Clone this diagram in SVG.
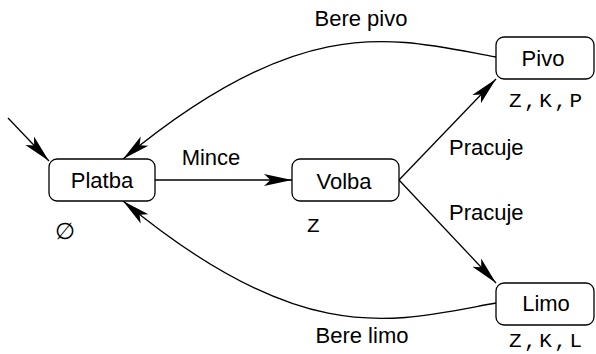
<svg xmlns="http://www.w3.org/2000/svg" width="596" height="354" viewBox="0 0 596 354">
  <style>
    .box { fill: #ffffff; stroke: #000000; stroke-width: 1.3; }
    .lbl { font-family: "Liberation Sans", Arial, sans-serif; font-size: 22px; fill: #000000; }
    .mid { text-anchor: middle; }
    .mono { font-family: "Liberation Mono", "Courier New", monospace; font-size: 21px; fill: #000000; letter-spacing: 2.5px; }
    .edge { fill: none; stroke: #000000; stroke-width: 1.3; marker-end: url(#stealth); }
  </style>
  <defs>
    <marker id="stealth" markerUnits="userSpaceOnUse" viewBox="0 0 30 14" markerWidth="30" markerHeight="14" refX="28" refY="7" orient="auto">
      <path d="M28,7 L0,1 L6.5,7 L0,13 Z" fill="#000000"/>
    </marker>
  </defs>

  <g id="connectors">
    <path id="e-init" class="edge" d="M8,118 L49,161"/>
    <path id="e-mince" class="edge" d="M155,180 L292,180"/>
    <path id="e-volba-pivo" class="edge" d="M399,180 L496,79"/>
    <path id="e-volba-limo" class="edge" d="M399,180 L496,283"/>
    <path id="e-pivo-platba" class="edge" d="M496,57 C396,39 305,8 123,159"/>
    <path id="e-limo-platba" class="edge" d="M496,303 C396,321 305,352 123,201"/>
    <text class="lbl mid" x="361" y="26">Bere pivo</text>
    <text class="lbl mid" x="211" y="165">Mince</text>
    <text class="lbl" x="449" y="155">Pracuje</text>
    <text class="lbl" x="449" y="220">Pracuje</text>
    <text class="lbl mid" x="362" y="343">Bere limo</text>
  </g>

  <g id="node-platba">
    <rect class="box" x="49" y="159" width="106" height="42" rx="8"/>
    <text class="lbl mid" x="102" y="188">Platba</text>
    <text x="65" y="239" font-family="DejaVu Sans, sans-serif" font-size="23" text-anchor="middle">∅</text>
  </g>

  <g id="node-volba">
    <rect class="box" x="292" y="159" width="107" height="42" rx="8"/>
    <text class="lbl mid" x="344" y="189">Volba</text>
    <text class="mono" x="307" y="232">Z</text>
  </g>

  <g id="node-pivo">
    <rect class="box" x="496" y="37" width="98" height="42" rx="8"/>
    <text class="lbl mid" x="543" y="66">Pivo</text>
    <text class="mono" x="509" y="107">Z,K,P</text>
  </g>

  <g id="node-limo">
    <rect class="box" x="496" y="283" width="98" height="42" rx="8"/>
    <text class="lbl mid" x="546" y="311">Limo</text>
    <text class="mono" x="509" y="347">Z,K,L</text>
  </g>
</svg>
